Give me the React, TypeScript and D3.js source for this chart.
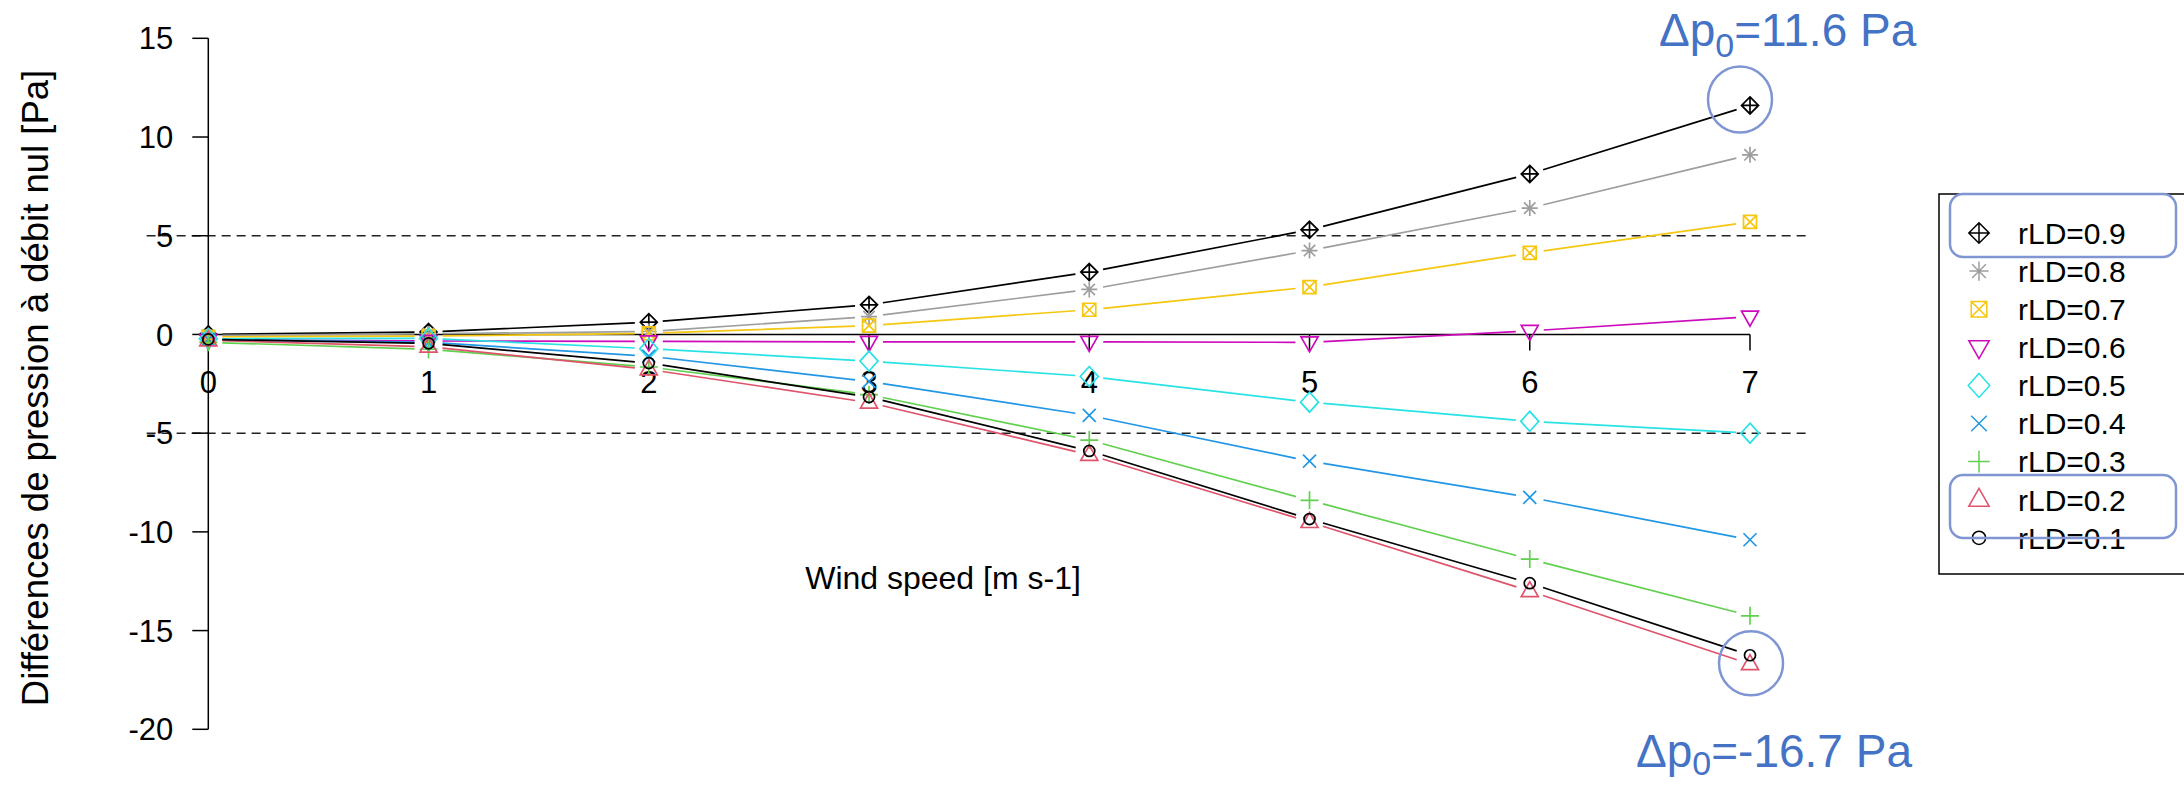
import React from 'react';
import * as d3 from 'd3';

// ---- data ----
const windSpeed = [0, 1, 2, 3, 4, 5, 6, 7];
const rLD09 = [0.0, 0.12, 0.62, 1.5, 3.16, 5.3, 8.13, 11.6];
const rLD08 = [-0.05, 0.03, 0.15, 0.9, 2.28, 4.25, 6.4, 9.1];
const rLD07 = [-0.12, -0.08, 0.05, 0.45, 1.25, 2.4, 4.13, 5.7];
const rLD06 = [-0.28, -0.33, -0.35, -0.38, -0.38, -0.4, 0.18, 0.9];
const rLD05 = [-0.22, -0.2, -0.72, -1.35, -2.13, -3.43, -4.4, -5.0];
const rLD04 = [-0.25, -0.4, -1.1, -2.38, -4.1, -6.42, -8.25, -10.4];
const rLD03 = [-0.4, -0.75, -1.65, -3.05, -5.35, -8.4, -11.38, -14.25];
const rLD02 = [-0.3, -0.62, -1.77, -3.45, -6.1, -9.5, -13.0, -16.7];
const rLD01 = [-0.25, -0.45, -1.45, -3.17, -5.9, -9.35, -12.6, -16.25];

const seriesNames = ['rLD=0.9', 'rLD=0.8', 'rLD=0.7', 'rLD=0.6', 'rLD=0.5', 'rLD=0.4', 'rLD=0.3', 'rLD=0.2', 'rLD=0.1'];
const seriesValues = [rLD09, rLD08, rLD07, rLD06, rLD05, rLD04, rLD03, rLD02, rLD01];
const seriesColors = ['#000000', '#9E9E9E', '#F5C710', '#CD0BBC', '#28E2E5', '#2297E6', '#61D04F', '#DF536B', '#000000'];
const seriesSymbols = [9, 8, 7, 6, 5, 4, 3, 2, 1];

const xTicks = [0, 1, 2, 3, 4, 5, 6, 7];
const yTicks = [-20, -15, -10, -5, 0, 5, 10, 15];
const refLines = [5, -5];

const xTitle = 'Wind speed [m s-1]';
const yTitle = 'Différences de pression à débit nul [Pa]';

const FONT = '"Liberation Sans", Arial, Helvetica, sans-serif';
const ANNOT = '#4472C4';
const HILITE = '#7F96D2';

function symbolPath(pch: number, k = 1): string {
  const s = (v: number) => (v * k).toFixed(2);
  switch (pch) {
    case 2:
      return `M0,${s(-9.5)} L${s(8.5)},${s(5.5)} L${s(-8.5)},${s(5.5)} Z`;
    case 3:
      return `M${s(-9)},0 H${s(9)} M0,${s(-9)} V${s(9)}`;
    case 4:
      return `M${s(-6.5)},${s(-6.5)} L${s(6.5)},${s(6.5)} M${s(-6.5)},${s(6.5)} L${s(6.5)},${s(-6.5)}`;
    case 5:
      return `M0,${s(-10)} L${s(9)},0 L0,${s(10)} L${s(-9)},0 Z`;
    case 6:
      return `M0,${s(9.5)} L${s(8.5)},${s(-5.5)} L${s(-8.5)},${s(-5.5)} Z`;
    case 7:
      return `M${s(-6.5)},${s(-6.5)} H${s(6.5)} V${s(6.5)} H${s(-6.5)} Z M${s(-6.5)},${s(-6.5)} L${s(6.5)},${s(6.5)} M${s(-6.5)},${s(6.5)} L${s(6.5)},${s(-6.5)}`;
    case 8:
      return `M${s(-8)},0 H${s(8)} M0,${s(-8)} V${s(8)} M${s(-5.7)},${s(-5.7)} L${s(5.7)},${s(5.7)} M${s(-5.7)},${s(5.7)} L${s(5.7)},${s(-5.7)}`;
    case 9:
      return `M0,${s(-8.5)} L${s(8.5)},0 L0,${s(8.5)} L${s(-8.5)},0 Z M${s(-8.5)},0 H${s(8.5)} M0,${s(-8.5)} V${s(8.5)}`;
    default:
      return d3.arc()({ innerRadius: 0, outerRadius: 5.5 * k, startAngle: 0, endAngle: 2 * Math.PI }) as string;
  }
}

export default function App() {
  const W = 2184;
  const H = 785;
  const x = d3.scaleLinear().domain([0, 7]).range([208.3, 1750]);
  const y = d3.scaleLinear().domain([-20, 15]).range([729.3, 38.3]);
  const xPlot = [x(-0.28), x(7.28)];
  const gap = 14;

  const segments = (vals: number[]) => {
    const segs: string[] = [];
    const line = d3.line();
    for (let i = 0; i < vals.length - 1; i++) {
      const x0 = x(windSpeed[i]), y0 = y(vals[i]);
      const x1 = x(windSpeed[i + 1]), y1 = y(vals[i + 1]);
      const dx = x1 - x0, dy = y1 - y0;
      const len = Math.hypot(dx, dy);
      if (len <= 2 * gap) continue;
      const ux = dx / len, uy = dy / len;
      segs.push(line([[x0 + ux * gap, y0 + uy * gap], [x1 - ux * gap, y1 - uy * gap]]) as string);
    }
    return segs.join(' ');
  };

  const legX = 1939, legY = 194, legW = 260, legH = 380;
  const rowY = (i: number) => 233 + i * 38.1;

  return (
    <svg width={W} height={H} style={{ position: 'absolute', left: 0, top: 0, display: 'block', background: '#fff' }} fontFamily={FONT}>
      <rect x={0} y={0} width={W} height={H} fill="#fff" />
      {/* reference dashed lines */}
      {refLines.map((v) => (
        <line key={v} x1={xPlot[0]} x2={xPlot[1]} y1={y(v)} y2={y(v)} stroke="#222" strokeWidth={1.5} strokeDasharray="9,6" />
      ))}
      {/* y axis */}
      <line x1={x(0)} x2={x(0)} y1={y(15)} y2={y(-20)} stroke="#000" strokeWidth={1.5} />
      {yTicks.map((t) => (
        <g key={t}>
          <line x1={x(0) - 16} x2={x(0)} y1={y(t)} y2={y(t)} stroke="#000" strokeWidth={1.5} />
          <text x={x(0) - 35} y={y(t)} dy="0.36em" textAnchor="end" fontSize={31} fill="#000">{t}</text>
        </g>
      ))}
      {/* x axis at 0 */}
      <line x1={x(0)} x2={x(7)} y1={y(0)} y2={y(0)} stroke="#000" strokeWidth={1.5} />
      {xTicks.map((t) => (
        <g key={t}>
          <line x1={x(t)} x2={x(t)} y1={y(0)} y2={y(0) + 16} stroke="#000" strokeWidth={1.5} />
          <text x={x(t)} y={382} dy="0.36em" textAnchor="middle" fontSize={31} fill="#000">{t}</text>
        </g>
      ))}
      {/* titles */}
      <text x={943} y={589} textAnchor="middle" fontSize={32} fill="#000">{xTitle}</text>
      <text transform={`translate(48,388) rotate(-90)`} textAnchor="middle" fontSize={36.5} fill="#000">{yTitle}</text>
      {/* series */}
      {seriesValues.map((vals, si) => (
        <g key={si} stroke={seriesColors[si]} fill="none" strokeWidth={1.7}>
          <path d={segments(vals)} />
          {vals.map((v, i) => (
            <path key={i} d={symbolPath(seriesSymbols[si])} transform={`translate(${x(windSpeed[i])},${y(v)})`} />
          ))}
        </g>
      ))}
      {/* legend */}
      <rect x={legX} y={legY} width={legW} height={legH} fill="#fff" stroke="#000" strokeWidth={1.5} />
      {seriesNames.map((name, i) => (
        <g key={name}>
          <path d={symbolPath(seriesSymbols[i], 1.2)} transform={`translate(1979,${rowY(i)})`} stroke={seriesColors[i]} fill="none" strokeWidth={1.5} />
          <text x={2018} y={rowY(i)} dy="0.36em" fontSize={30} fill="#000">{name}</text>
        </g>
      ))}
      <rect x={1950} y={194} width={226} height={63} rx={13} fill="none" stroke={HILITE} strokeWidth={2.5} />
      <rect x={1950} y={475} width={226} height={63} rx={13} fill="none" stroke={HILITE} strokeWidth={2.5} />
      {/* annotations */}
      <ellipse cx={x(7) - 10} cy={y(rLD09[7]) - 6} rx={32} ry={33} fill="none" stroke={HILITE} strokeWidth={2.5} />
      <ellipse cx={x(7) + 1} cy={y(rLD02[7]) - 1} rx={32} ry={32} fill="none" stroke={HILITE} strokeWidth={2.5} />
      <text x={1659} y={46} fontSize={46} fill={ANNOT}>
        <tspan>Δp</tspan>
        <tspan fontSize={34} dy={11}>0</tspan>
        <tspan dy={-11}>=11.6 Pa</tspan>
      </text>
      <text x={1636} y={767} fontSize={46} fill={ANNOT}>
        <tspan>Δp</tspan>
        <tspan fontSize={34} dy={8}>0</tspan>
        <tspan dy={-8}>=-16.7 Pa</tspan>
      </text>
    </svg>
  );
}
